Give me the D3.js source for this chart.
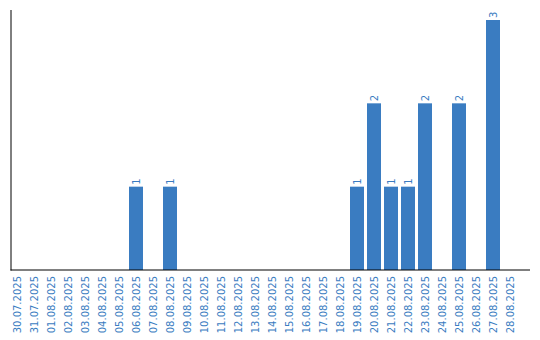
<!DOCTYPE html>
<html>
<head>
<meta charset="utf-8">
<script src="https://cdn.jsdelivr.net/npm/d3@7"></script>
<style>
  body { margin: 0; background: #fff; }
  text { font-family: Verdana, "DejaVu Sans", sans-serif; }
</style>
</head>
<body>
<script>
const dates = ['30.07.2025', '31.07.2025', '01.08.2025', '02.08.2025', '03.08.2025', '04.08.2025',
  '05.08.2025', '06.08.2025', '07.08.2025', '08.08.2025', '09.08.2025', '10.08.2025', '11.08.2025',
  '12.08.2025', '13.08.2025', '14.08.2025', '15.08.2025', '16.08.2025', '17.08.2025', '18.08.2025',
  '19.08.2025', '20.08.2025', '21.08.2025', '22.08.2025', '23.08.2025', '24.08.2025', '25.08.2025',
  '26.08.2025', '27.08.2025', '28.08.2025'];
const counts = [0, 0, 0, 0, 0, 0, 0, 1, 0, 1, 0, 0, 0, 0, 0, 0, 0, 0, 0, 0,
  1, 2, 1, 1, 2, 0, 2, 0, 3, 0];

const width = 540;
const height = 340;
const blue = '#3a7cc1';

const svg = d3.select('body').append('svg')
  .attr('width', width)
  .attr('height', height);

const x = d3.scaleBand()
  .domain(dates)
  .range([8.5, 8.5 + dates.length * 17])
  .paddingInner(3 / 17)
  .paddingOuter(1.5 / 17);

const y = d3.scaleLinear()
  .domain([0, 3])
  .range([270, 20]);

const data = dates.map((d, i) => ({ date: d, count: counts[i] }));

// bars
svg.selectAll('.bar')
  .data(data.filter(d => d.count > 0))
  .enter().append('rect')
  .attr('class', 'bar')
  .attr('x', d => x(d.date))
  .attr('width', x.bandwidth())
  .attr('y', d => y(d.count))
  .attr('height', d => y(0) - y(d.count))
  .attr('fill', blue);

// value labels
svg.selectAll('.val')
  .data(data.filter(d => d.count > 0))
  .enter().append('text')
  .attr('class', 'val')
  .attr('transform', d => `translate(${x(d.date) + x.bandwidth() / 2},${y(d.count) - 2}) rotate(-90)`)
  .attr('dy', '0.35em')
  .attr('font-size', 10)
  .attr('fill', blue)
  .text(d => d.count);

// axes
svg.append('line')
  .attr('x1', 11).attr('x2', 11)
  .attr('y1', 10).attr('y2', 270.5)
  .attr('stroke', '#000');
svg.append('line')
  .attr('x1', 10.5).attr('x2', 530)
  .attr('y1', 270).attr('y2', 270)
  .attr('stroke', '#000');

// tick labels
svg.selectAll('.tick-label')
  .data(dates)
  .enter().append('text')
  .attr('class', 'tick-label')
  .attr('transform', d => `translate(${x(d) + x.bandwidth() / 2},276) rotate(-90)`)
  .attr('text-anchor', 'end')
  .attr('dy', '0.35em')
  .attr('font-size', 10)
  .attr('fill', blue)
  .text(d => d);
</script>
</body>
</html>
